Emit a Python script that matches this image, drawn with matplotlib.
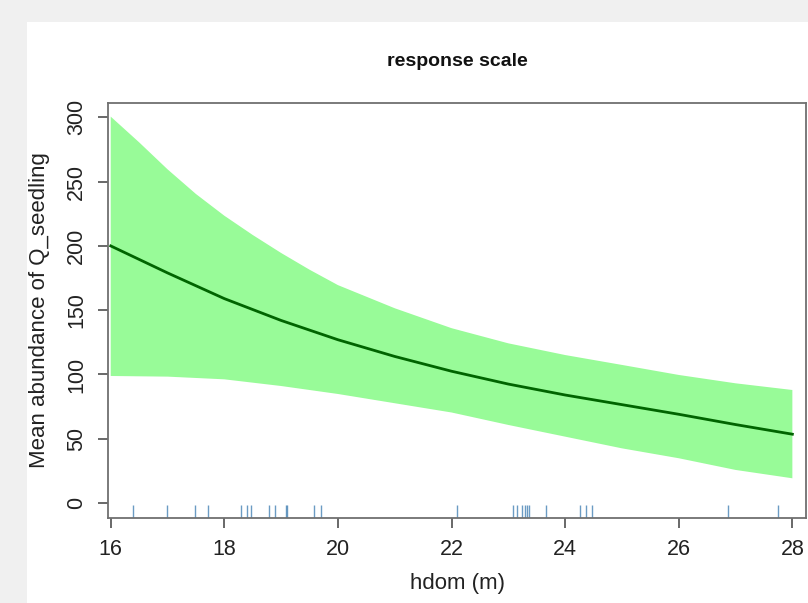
import numpy as np
import matplotlib
matplotlib.use("Agg")
import matplotlib.pyplot as plt
from matplotlib.patches import Rectangle

plt.rcParams['font.family'] = ['Liberation Sans', 'DejaVu Sans']

# values
hdom = [16, 17, 18, 19, 20, 21, 22, 23, 24, 25, 26, 27, 28]
fit = [200, 179, 159, 142, 127, 114, 102.5, 92.5, 84, 76.5, 69, 61, 53.5]
lower = [98.8, 98.3, 96.2, 91, 84.8, 77.6, 70.4, 60.7, 51.6, 42.5, 34.8, 25.7, 19.2]

# upper band edge, read more densely where it bends most
hdom_up = [16, 16.5, 17, 17.5, 18, 18.5, 19, 19.5, 20, 21, 22, 23, 24, 25, 26, 27, 28]
upper = [300.6, 280.6, 259.6, 240.4, 223.5, 208.5, 194.5, 181.5, 169.5, 151.5,
         136, 124.2, 115.1, 107.4, 99.6, 93.1, 87.9]

# observed hdom values (rug)
rug_x = [16.40, 16.99, 17.48, 17.71, 18.30, 18.40, 18.47, 18.78, 18.89, 19.09, 19.11,
         19.57, 19.70, 22.09, 23.08, 23.16, 23.24, 23.29, 23.32, 23.37, 23.67, 24.27,
         24.36, 24.48, 26.87, 27.75]

xticks = [16, 18, 20, 22, 24, 26, 28]
yticks = [0, 50, 100, 150, 200, 250, 300]

W, H = 808, 603
fig = plt.figure(figsize=(W / 100, H / 100), dpi=100)
fig.patch.set_facecolor('#f0f0f0')
fig.patches.append(Rectangle((27 / W, 0), 1 - 27 / W, (H - 22) / H,
                             transform=fig.transFigure, facecolor='white',
                             edgecolor='none', zorder=-10))

ax = fig.add_axes([108 / W, (H - 518) / H, (806 - 108) / W, (518 - 103) / H])
ax.set_facecolor('white')

# confidence band as one polygon: upper edge left->right, lower edge right->left
ax.fill(hdom_up + hdom[::-1], upper + lower[::-1], color='#98FB98', linewidth=0)
ax.plot(hdom, fit, color='#006400', linewidth=2)
ax.vlines(rug_x, 0, 0.031, transform=ax.get_xaxis_transform(),
          color='#4682b4', alpha=0.8, linewidth=1)

ax.set_xlim(15.952, 28.24)
ax.set_ylim(-11.7, 311.2)
ax.set_xticks(xticks)
ax.set_yticks(yticks)
ax.set_yticklabels([str(v) for v in yticks], rotation=90, va='center')

for s in ax.spines.values():
    s.set_color('#707070')
    s.set_linewidth(1.3)
ax.tick_params(axis='both', length=7, width=1.1, color='#404040',
               labelsize=15.5, labelcolor='#222222')
ax.tick_params(axis='x', pad=8)
ax.tick_params(axis='y', pad=8)

ax.set_xlabel('hdom (m)', fontsize=16, color='#222222', va='center')
ax.xaxis.set_label_coords(0.5, (518 - 583) / 415)
ax.set_ylabel('Mean abundance of Q_seedling', fontsize=16, color='#222222', va='center')
ax.yaxis.set_label_coords((40 - 108) / 698, 0.5)

ax.text(0.5, 1 + (103 - 62) / 415, 'response scale', transform=ax.transAxes,
        ha='center', va='center', fontsize=14, fontweight='bold', color='#111111')

fig.savefig('out.png', dpi=100)
